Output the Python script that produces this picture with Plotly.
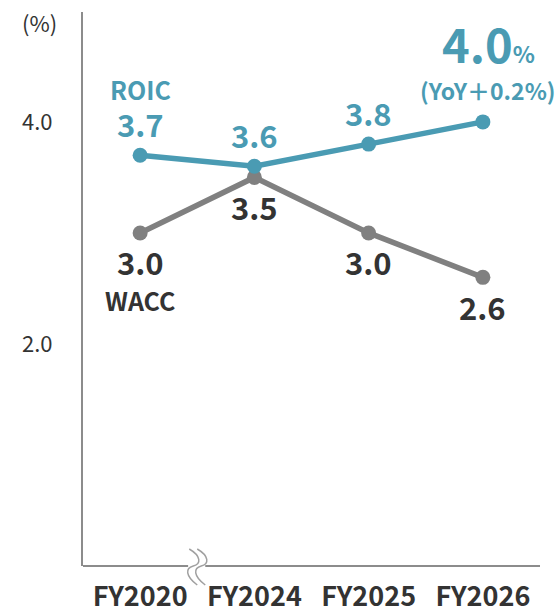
import plotly.graph_objects as go

categories = ["FY2020", "FY2024", "FY2025", "FY2026"]
roic = [3.7, 3.6, 3.8, 4.0]
wacc = [3.0, 3.5, 3.0, 2.6]
y_ticks = [2.0, 4.0]
y_tick_text = ["2.0", "4.0"]

TEAL = "#4a9bb3"
GREY = "#808080"
DARK = "#333333"
AXIS = "#8c8c8c"
FONT = "Noto Sans CJK JP"

x = list(range(len(categories)))

fig = go.Figure()
fig.add_trace(go.Scatter(
    x=x, y=wacc, mode="lines+markers",
    line=dict(color=GREY, width=5.5), marker=dict(color=GREY, size=15),
    hoverinfo="skip", showlegend=False))
fig.add_trace(go.Scatter(
    x=x, y=roic, mode="lines+markers",
    line=dict(color=TEAL, width=5.5), marker=dict(color=TEAL, size=15),
    hoverinfo="skip", showlegend=False))

ann = []
# ROIC value labels (last one is the headline value)
for i, v in enumerate(roic[:-1]):
    ann.append(dict(x=i, y=v, text=f"{v:.1f}", showarrow=False, yshift=32,
                    font=dict(family=FONT, size=31, color=TEAL, weight="bold")))
last = len(roic) - 1
ann.append(dict(x=last, y=roic[last],
                text=f"{roic[last]:.1f}<span style='font-size:23px'>%</span>",
                showarrow=False, yshift=79, xshift=6,
                font=dict(family=FONT, size=47, color=TEAL, weight="bold")))
yoy = roic[last] - roic[last - 1]
ann.append(dict(x=last, y=roic[last], text=f"(YoY＋{yoy:.1f}%)",
                showarrow=False, yshift=32, xshift=5,
                font=dict(family=FONT, size=23, color=TEAL, weight="bold")))
ann.append(dict(x=0, y=roic[0], text="ROIC", showarrow=False, yshift=66,
                font=dict(family=FONT, size=25, color=TEAL, weight="bold")))

# WACC value labels
for i, v in enumerate(wacc):
    ann.append(dict(x=i, y=v, text=f"{v:.1f}", showarrow=False, yshift=-29,
                    font=dict(family=FONT, size=31, color=DARK, weight="bold")))
ann.append(dict(x=0, y=wacc[0], text="WACC", showarrow=False, yshift=-67,
                font=dict(family=FONT, size=25, color=DARK, weight="bold")))

# unit label
ann.append(dict(xref="paper", yref="paper", x=0, y=1, xanchor="center",
                yanchor="middle", xshift=-44, yshift=-10, text="(%)",
                showarrow=False, font=dict(family=FONT, size=22, color=DARK)))

shapes = []
# x axis drawn in two pieces with a break between FY2020 and FY2024
shapes.append(dict(type="line", xref="x", yref="paper", x0=-0.5, x1=0.42, y0=0, y1=0,
                   line=dict(color=AXIS, width=2)))
shapes.append(dict(type="line", xref="x", yref="paper", x0=0.57, x1=3.5, y0=0, y1=0,
                   line=dict(color=AXIS, width=2)))
for dx in (-4, 4):
    shapes.append(dict(
        type="path", xref="x", yref="paper", xsizemode="pixel", ysizemode="pixel",
        xanchor=0.5, yanchor=0,
        path=f"M {dx-4},17 C {dx+8},10 {dx+8},2 {dx},0 C {dx-8},-2 {dx-8},-10 {dx+4},-19",
        line=dict(color="#a0a0a0", width=1.5)))

fig.update_layout(
    width=560, height=611,
    margin=dict(l=83, r=20, t=12, b=45, autoexpand=False),
    paper_bgcolor="white", plot_bgcolor="white",
    annotations=ann, shapes=shapes,
    xaxis=dict(range=[-0.5, 3.5], tickvals=x, ticktext=categories,
               showgrid=False, zeroline=False, showline=False, ticks="",
               ticklabelstandoff=12, automargin=False,
               tickfont=dict(family=FONT, size=27, color=DARK, weight="bold"),
               fixedrange=True),
    yaxis=dict(range=[0, 4.99], tickvals=y_ticks, ticktext=y_tick_text,
               showgrid=False, zeroline=False, showline=True, linecolor=AXIS,
               linewidth=2, ticks="", ticklabelstandoff=24, automargin=False,
               tickfont=dict(family=FONT, size=22, color=DARK),
               fixedrange=True),
)

fig.write_html("out.html", config={"displayModeBar": False})
